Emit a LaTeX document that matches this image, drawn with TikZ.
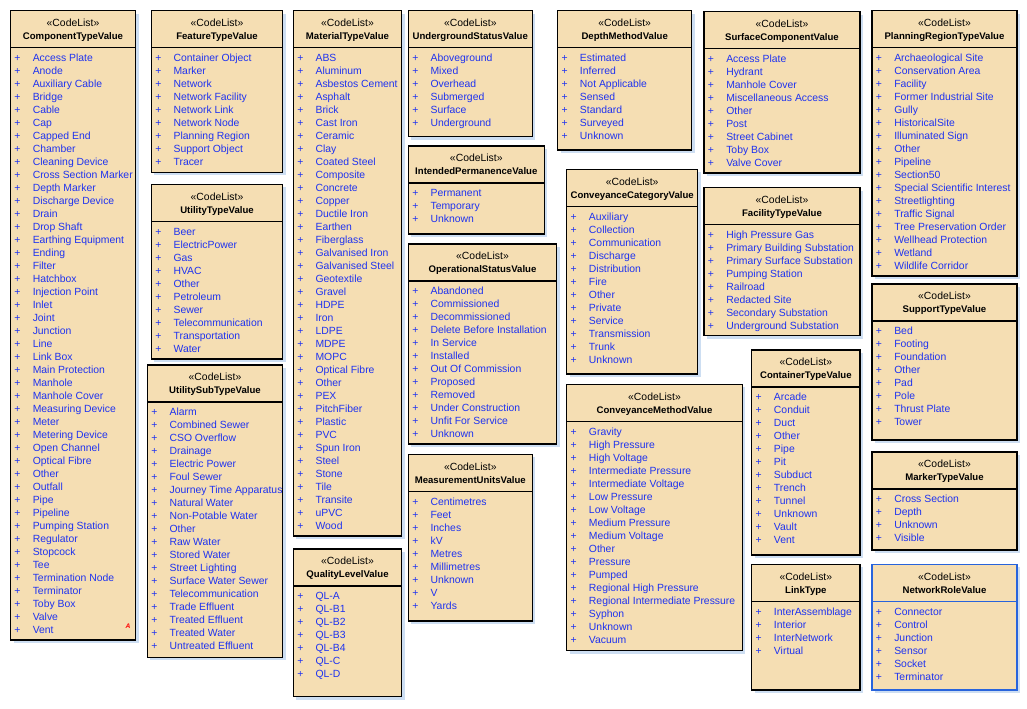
\documentclass[tikz,border=0pt]{standalone}
\usepackage{fontspec}
\setmainfont{Liberation Sans}
\usepackage{tikz}
\usetikzlibrary{positioning}
\definecolor{clwheat}{RGB}{245,222,179}
\definecolor{clblue}{RGB}{30,50,240}
\definecolor{clshadow}{RGB}{205,222,242}
\definecolor{clselect}{RGB}{40,100,220}

\tikzset{
  clbox/.style={fill=clwheat,draw=black,line width=0.8pt},
  clshade/.style={fill=clshadow},
  clrule/.style={draw=black,line width=0.8pt},
  clstereo/.style={anchor=base,inner sep=0pt,font=\fontsize{7.8}{9}\selectfont},
  cltitle/.style={anchor=base,inner sep=0pt,font=\fontsize{7.2}{9}\selectfont\bfseries},
  clplus/.style={anchor=base,inner sep=0pt,text=clblue,font=\fontsize{7.8}{9}\selectfont},
  clitem/.style={anchor=base west,inner sep=0pt,text=clblue,font=\fontsize{7.8}{9}\selectfont},
  clsel/.style={draw=clselect},
}

% one code list: [extra style]{id}{left}{top}{right}{bottom}{title}{values}
\newcommand{\codelist}[8][]{%
  \fill[clshade] (#3+3,#4+3) rectangle (#5+3,#6+3);
  \draw[clbox,#1] (#3,#4) rectangle (#5,#6);
  \draw[clrule,#1] (#3,#4+37) -- (#5,#4+37);
  \node[clstereo] (#2-stereo) at ({(#3+#5)/2},#4+15.7) {«CodeList»};
  \node[cltitle] (#2-title) at ({(#3+#5)/2},#4+28.7) {#7};
  \foreach \lbl [count=\n] in {#8} {
    \node[clplus] (#2-plus\n) at (#3+7,#4+37.7+13*\n) {+};
    \node[clitem] (#2-\n) at (#3+22,#4+37.7+13*\n) {\lbl};
  }%
}

\begin{document}
\begin{tikzpicture}[x=0.75pt,y=-0.75pt]
  \useasboundingbox (0,0) rectangle (1027,708);

  % ── Column 1 ──
  \codelist{comp}{10.5}{10.5}{135.5}{640}{ComponentTypeValue}{Access Plate,Anode,Auxiliary Cable,Bridge,Cable,Cap,Capped End,Chamber,Cleaning Device,Cross Section Marker,Depth Marker,Discharge Device,Drain,Drop Shaft,Earthing Equipment,Ending,Filter,Hatchbox,Injection Point,Inlet,Joint,Junction,Line,Link Box,Main Protection,Manhole,Manhole Cover,Measuring Device,Meter,Metering Device,Open Channel,Optical Fibre,Other,Outfall,Pipe,Pipeline,Pumping Station,Regulator,Stopcock,Tee,Termination Node,Terminator,Toby Box,Valve,Vent}
  \node[text=red,inner sep=0pt,font=\fontsize{5}{6}\selectfont\bfseries\itshape] (comp-flag) at (128,626) {A};

  % ── Column 2 ──
  \codelist{feature}{151.3}{10.5}{282.7}{172.3}{FeatureTypeValue}{Container Object,Marker,Network,Network Facility,Network Link,Network Node,Planning Region,Support Object,Tracer}
  \codelist{utility}{151.3}{184.3}{282.7}{359}{UtilityTypeValue}{Beer,ElectricPower,Gas,HVAC,Other,Petroleum,Sewer,Telecommunication,Transportation,Water}
  \codelist{subtype}{147.3}{365}{282.7}{657.3}{UtilitySubTypeValue}{Alarm,Combined Sewer,CSO Overflow,Drainage,Electric Power,Foul Sewer,Journey Time Apparatus,Natural Water,Non-Potable Water,Other,Raw Water,Stored Water,Street Lighting,Surface Water Sewer,Telecommunication,Trade Effluent,Treated Effluent,Treated Water,Untreated Effluent}

  % ── Column 3 ──
  \codelist{material}{293.3}{10.5}{401.7}{536}{MaterialTypeValue}{ABS,Aluminum,Asbestos Cement,Asphalt,Brick,Cast Iron,Ceramic,Clay,Coated Steel,Composite,Concrete,Copper,Ductile Iron,Earthen,Fiberglass,Galvanised Iron,Galvanised Steel,Geotextile,Gravel,HDPE,Iron,LDPE,MDPE,MOPC,Optical Fibre,Other,PEX,PitchFiber,Plastic,PVC,Spun Iron,Steel,Stone,Tile,Transite,uPVC,Wood}
  \codelist{quality}{293.3}{549}{401.7}{696.7}{QualityLevelValue}{QL-A,QL-B1,QL-B2,QL-B3,QL-B4,QL-C,QL-D}

  % ── Column 4 ──
  \codelist{underground}{408.3}{10.5}{532.3}{136.7}{UndergroundStatusValue}{Aboveground,Mixed,Overhead,Submerged,Surface,Underground}
  \codelist{permanence}{408.3}{146}{544.3}{234}{IntendedPermanenceValue}{Permanent,Temporary,Unknown}
  \codelist{opstatus}{408.3}{244}{556.7}{444}{OperationalStatusValue}{Abandoned,Commissioned,Decommissioned,Delete Before Installation,In Service,Installed,Out Of Commission,Proposed,Removed,Under Construction,Unfit For Service,Unknown}
  \codelist{units}{408.3}{454.3}{532.3}{621}{MeasurementUnitsValue}{Centimetres,Feet,Inches,kV,Metres,Millimetres,Unknown,V,Yards}

  % ── Column 5 ──
  \codelist{depth}{557.7}{10.5}{691.7}{150}{DepthMethodValue}{Estimated,Inferred,Not Applicable,Sensed,Standard,Surveyed,Unknown}
  \codelist{convcat}{566.7}{169.3}{697.7}{374}{ConveyanceCategoryValue}{Auxiliary,Collection,Communication,Discharge,Distribution,Fire,Other,Private,Service,Transmission,Trunk,Unknown}
  \codelist{convmethod}{566.7}{384.3}{742.3}{650.7}{ConveyanceMethodValue}{Gravity,High Pressure,High Voltage,Intermediate Pressure,Intermediate Voltage,Low Pressure,Low Voltage,Medium Pressure,Medium Voltage,Other,Pressure,Pumped,Regional High Pressure,Regional Intermediate Pressure,Syphon,Unknown,Vacuum}

  % ── Column 6 ──
  \codelist{surface}{704}{11.5}{860}{173}{SurfaceComponentValue}{Access Plate,Hydrant,Manhole Cover,Miscellaneous Access,Other,Post,Street Cabinet,Toby Box,Valve Cover}
  \codelist{facility}{704}{187.7}{860}{335.7}{FacilityTypeValue}{High Pressure Gas,Primary Building Substation,Primary Surface Substation,Pumping Station,Railroad,Redacted Site,Secondary Substation,Underground Substation}
  \codelist{container}{751.7}{350}{860}{555}{ContainerTypeValue}{Arcade,Conduit,Duct,Other,Pipe,Pit,Subduct,Trench,Tunnel,Unknown,Vault,Vent}
  \codelist{linktype}{751.7}{564.3}{860}{690}{LinkType}{InterAssemblage,Interior,InterNetwork,Virtual}

  % ── Column 7 ──
  \codelist{planning}{872}{10.5}{1017}{276}{PlanningRegionTypeValue}{Archaeological Site,Conservation Area,Facility,Former Industrial Site,Gully,HistoricalSite,Illuminated Sign,Other,Pipeline,Section50,Special Scientific Interest,Streetlighting,Traffic Signal,Tree Preservation Order,Wellhead Protection,Wetland,Wildlife Corridor}
  \codelist{support}{872}{284}{1017}{440}{SupportTypeValue}{Bed,Footing,Foundation,Other,Pad,Pole,Thrust Plate,Tower}
  \codelist{marker}{872}{452}{1017}{550}{MarkerTypeValue}{Cross Section,Depth,Unknown,Visible}
  \codelist[clsel]{netrole}{872}{564.3}{1017}{690}{NetworkRoleValue}{Connector,Control,Junction,Sensor,Socket,Terminator}
\end{tikzpicture}
\end{document}
